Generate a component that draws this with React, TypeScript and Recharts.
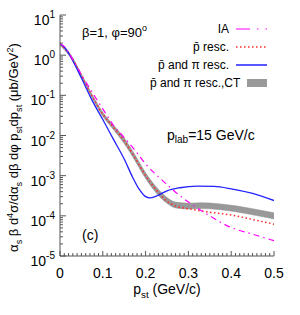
import React from 'react'
import { ComposedChart, Line, Area, XAxis, YAxis, Legend, Label } from 'recharts'

const FONT = '"Liberation Sans", Arial, Helvetica, sans-serif'
const FRAME = '#555555'

// impulse approximation
const iaPst = [0, 0.01, 0.025, 0.05, 0.075, 0.1, 0.125, 0.15, 0.175, 0.2, 0.225, 0.25, 0.275, 0.3, 0.35, 0.4, 0.45, 0.5]
const iaVal = [1.9, 1.65, 0.95, 0.33, 0.12, 0.046, 0.018, 8.9e-3, 4.3e-3, 1.95e-3, 1.05e-3, 6.0e-4, 3.5e-4, 2.2e-4, 1.0e-4, 5.1e-5, 3.5e-5, 2.4e-5]

// antiproton rescattering only
const pbarPst = [0, 0.025, 0.05, 0.075, 0.1, 0.125, 0.15, 0.175, 0.2, 0.225, 0.25, 0.27, 0.3, 0.35, 0.4, 0.45, 0.5]
const pbarVal = [1.9, 0.95, 0.31, 0.095, 0.034, 0.016, 7.4e-3, 2.8e-3, 1.0e-3, 4.4e-4, 2.3e-4, 1.75e-4, 1.5e-4, 1.23e-4, 1.05e-4, 8.1e-5, 6.2e-5]

// antiproton and pion rescattering
const fullPst = [0, 0.01, 0.025, 0.05, 0.075, 0.1, 0.125, 0.15, 0.17, 0.185, 0.2, 0.21, 0.225, 0.25, 0.28, 0.32, 0.36, 0.4, 0.45, 0.5]
const fullVal = [1.9, 1.6, 0.9, 0.27, 0.075, 0.025, 8e-3, 2.6e-3, 9e-4, 4.6e-4, 3.0e-4, 2.8e-4, 3.1e-4, 4.2e-4, 5.0e-4, 5.5e-4, 5.4e-4, 4.7e-4, 3.6e-4, 2.4e-4]

// with colour transparency (band)
const ctPst = [0, 0.025, 0.05, 0.075, 0.1, 0.125, 0.15, 0.175, 0.2, 0.225, 0.25, 0.27, 0.3, 0.33, 0.37, 0.41, 0.45, 0.5]
const ctLow = [1.75, 0.87, 0.28, 0.086, 0.03, 0.014, 6.3e-3, 2.4e-3, 8.5e-4, 3.7e-4, 2.05e-4, 1.57e-4, 1.48e-4, 1.52e-4, 1.44e-4, 1.27e-4, 1.06e-4, 8.4e-5]
const ctHigh = [2.05, 1.04, 0.34, 0.105, 0.038, 0.018, 8.7e-3, 3.3e-3, 1.18e-3, 5.2e-4, 2.85e-4, 2.2e-4, 2.07e-4, 2.12e-4, 2.0e-4, 1.78e-4, 1.5e-4, 1.19e-4]

const xMajor = [0, 0.1, 0.2, 0.3, 0.4, 0.5]
const yExp = [-5, -4, -3, -2, -1, 0, 1]

const xTicks = Array.from({ length: 51 }, (_, i) => i / 100)
const yTicks = yExp.flatMap((e) =>
  e === 1 ? [10] : [1, 2, 3, 4, 5, 6, 7, 8, 9].map((m) => m * Math.pow(10, e))
)

const isMajorX = (v: number) => xMajor.some((m) => Math.abs(m - v) < 1e-6)
const isMajorY = (v: number) => Math.abs(Math.log10(v) - Math.round(Math.log10(v))) < 1e-6

const iaData = iaPst.map((pst, i) => ({ pst, v: iaVal[i] }))
const pbarData = pbarPst.map((pst, i) => ({ pst, v: pbarVal[i] }))
const fullData = fullPst.map((pst, i) => ({ pst, v: fullVal[i] }))
const ctData = ctPst.map((pst, i) => ({ pst, band: [ctLow[i], ctHigh[i]] }))

type Seg = [string, ('sub' | 'sup')?]

function segs(parts: Seg[], size: number) {
  let shift = 0
  return parts.map(([t, k], i) => {
    const target = k === 'sub' ? size * 0.3 : k === 'sup' ? -size * 0.4 : 0
    const dy = target - shift
    shift = target
    return (
      <tspan key={i} dy={dy || undefined} fontSize={k ? size * 0.7 : size}>
        {t}
      </tspan>
    )
  })
}

function BottomTick(props: any) {
  const { x, y, payload } = props
  const major = isMajorX(payload.value)
  return (
    <g>
      <line x1={x} x2={x} y1={y} y2={y - (major ? 5 : 3)} stroke={FRAME} />
      {major && (
        <text x={x} y={y + 22} textAnchor="middle" fontSize={14} fontFamily={FONT} fill="#000">
          {String(payload.value)}
        </text>
      )}
    </g>
  )
}

function TopTick(props: any) {
  const { x, y, payload } = props
  const major = isMajorX(payload.value)
  return <line x1={x} x2={x} y1={y} y2={y + (major ? 5 : 3)} stroke={FRAME} />
}

function LeftTick(props: any) {
  const { x, y, payload } = props
  const major = isMajorY(payload.value)
  const e = Math.round(Math.log10(payload.value))
  return (
    <g>
      <line x1={x} x2={x + (major ? 6 : 3)} y1={y} y2={y} stroke={FRAME} />
      {major && (
        <text x={x - 5} y={y + 10} textAnchor="end" fontSize={14} fontFamily={FONT} fill="#000">
          10<tspan dy={-7} fontSize={10}>{String(e)}</tspan>
        </text>
      )}
    </g>
  )
}

function RightTick(props: any) {
  const { x, y, payload } = props
  const major = isMajorY(payload.value)
  return <line x1={x} x2={x - (major ? 6 : 3)} y1={y} y2={y} stroke={FRAME} />
}

function XTitle(props: any) {
  const vb = props.viewBox
  return (
    <text x={vb.x + vb.width / 2} y={vb.y + 38} textAnchor="middle" fontFamily={FONT} fill="#000">
      {segs([['p'], ['st', 'sub'], [' (GeV/c)']], 14)}
    </text>
  )
}

function YTitle(props: any) {
  const vb = props.viewBox
  const cx = vb.x + 18
  const cy = vb.y + vb.height / 2 + 12
  return (
    <text
      x={cx}
      y={cy}
      transform={`rotate(-90 ${cx} ${cy})`}
      textAnchor="middle"
      fontFamily={FONT}
      fill="#000"
    >
      {segs(
        [
          ['α'], ['s', 'sub'], [' β d'], ['4', 'sup'], ['σ/dα'], ['s', 'sub'],
          [' dβ dφ p'], ['st', 'sub'], ['dp'], ['st', 'sub'], [' (μb/GeV'], ['2', 'sup'], [')'],
        ],
        13
      )}
    </text>
  )
}

function Notes() {
  return (
    <g fontFamily={FONT} fill="#000">
      <text x={82} y={37} fontSize={13}>
        β=1, φ=90<tspan dy={-6} fontSize={9}>o</tspan>
      </text>
      <text x={167} y={140} fontSize={14}>
        p<tspan dy={3} fontSize={10}>lab</tspan>
        <tspan dy={-3}>=15 GeV/c</tspan>
      </text>
      <text x={82} y={240} fontSize={14}>
        (c)
      </text>
    </g>
  )
}

const legendItems = [
  { label: 'IA', kind: 'ia' },
  { label: 'p̄ resc.', kind: 'pbar' },
  { label: 'p̄ and π resc.', kind: 'full' },
  { label: 'p̄ and π resc.,CT', kind: 'ct' },
]

function LegendSample({ kind }: { kind: string }) {
  if (kind === 'ct') return <rect x={0} y={1} width={31} height={8} fill="#999" />
  if (kind === 'ia')
    return <line x1={0} x2={31} y1={5} y2={5} stroke="#ff00ff" strokeWidth={1.2} strokeDasharray="14 7 1.5 7" />
  if (kind === 'pbar')
    return <line x1={0} x2={31} y1={5} y2={5} stroke="#ff2a2a" strokeWidth={1.5} strokeDasharray="1.5 2.5" />
  return <line x1={0} x2={31} y1={5} y2={5} stroke="#2222ff" strokeWidth={1.5} />
}

function LegendBox() {
  return (
    <div style={{ fontFamily: FONT, fontSize: 12, color: '#000' }}>
      {legendItems.map((it) => (
        <div
          key={it.kind}
          style={{ display: 'flex', justifyContent: 'flex-end', alignItems: 'center', height: 18 }}
        >
          <span style={{ whiteSpace: 'nowrap' }}>{it.label}</span>
          <svg width={31} height={10} style={{ marginLeft: 7, display: 'block' }}>
            <LegendSample kind={it.kind} />
          </svg>
        </div>
      ))}
    </div>
  )
}

export default function App() {
  return (
    <div style={{ position: 'absolute', left: 0, top: 0, background: '#fff' }}>
      <ComposedChart width={300} height={315} margin={{ top: 15, right: 26, bottom: 0, left: 0 }}>
        <XAxis
          dataKey="pst"
          type="number"
          domain={[0, 0.5]}
          allowDataOverflow
          ticks={xTicks}
          interval={0}
          tick={BottomTick}
          tickLine={false}
          tickSize={0}
          tickMargin={0}
          axisLine={{ stroke: FRAME }}
          height={59}
        >
          <Label content={XTitle} />
        </XAxis>
        <XAxis
          xAxisId="top"
          orientation="top"
          dataKey="pst"
          type="number"
          domain={[0, 0.5]}
          allowDataOverflow
          ticks={xTicks}
          interval={0}
          tick={TopTick}
          tickLine={false}
          tickSize={0}
          tickMargin={0}
          axisLine={{ stroke: FRAME }}
          height={0}
        />
        <YAxis
          type="number"
          scale="log"
          domain={[1e-5, 10]}
          allowDataOverflow
          ticks={yTicks}
          interval={0}
          tick={LeftTick}
          tickLine={false}
          tickSize={0}
          tickMargin={0}
          axisLine={{ stroke: FRAME }}
          width={60}
        >
          <Label content={YTitle} />
        </YAxis>
        <YAxis
          yAxisId="right"
          orientation="right"
          type="number"
          scale="log"
          domain={[1e-5, 10]}
          allowDataOverflow
          ticks={yTicks}
          interval={0}
          tick={RightTick}
          tickLine={false}
          tickSize={0}
          tickMargin={0}
          axisLine={{ stroke: FRAME }}
          width={0}
        />
        <Legend
          layout="horizontal"
          verticalAlign="middle"
          align="center"
          content={LegendBox}
          wrapperStyle={{ top: 20, left: 150, width: 117 }}
        />
        <Line
          data={pbarData}
          dataKey="v"
          type="monotone"
          stroke="#ff2a2a"
          strokeWidth={1.5}
          strokeDasharray="1.5 2.5"
          dot={false}
          isAnimationActive={false}
        />
        <Area
          data={ctData}
          dataKey="band"
          type="monotone"
          fill="#999999"
          fillOpacity={1}
          stroke="#8c8c8c"
          strokeWidth={0.5}
          isAnimationActive={false}
        />
        <Line
          data={fullData}
          dataKey="v"
          type="monotone"
          stroke="#2222ff"
          strokeWidth={1.3}
          dot={false}
          isAnimationActive={false}
        />
        <Line
          data={iaData}
          dataKey="v"
          type="monotone"
          stroke="#ff00ff"
          strokeWidth={1.2}
          strokeDasharray="6 4 1.5 4"
          dot={false}
          isAnimationActive={false}
        />
        <Notes />
      </ComposedChart>
    </div>
  )
}
